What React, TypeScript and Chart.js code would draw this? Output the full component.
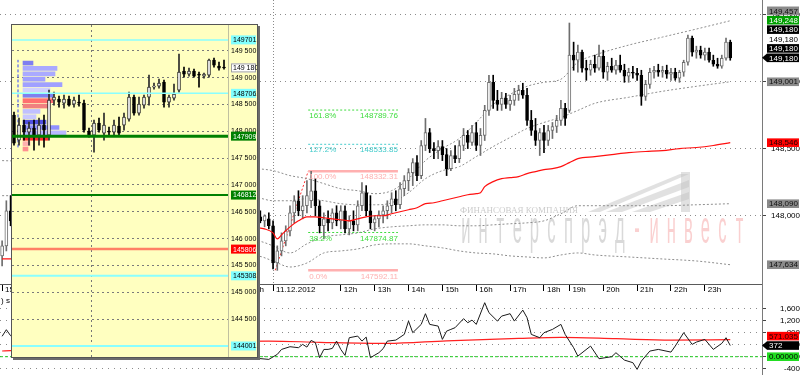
import React, { useEffect, useRef } from 'react';
import { Chart, registerables } from 'chart.js';

Chart.register(...registerables);

const FONT = "'Liberation Sans', Arial, sans-serif";

// ---------------- MAIN PRICE PANEL ----------------
// slot = bar position on the intraday time axis (8 bars per hour)
const M_SLOT = [
  0, 1, 2,
  60, 61, 62, 63, 64, 65, 66, 67, 68, 69,
  70, 71, 72, 73, 74, 75, 76, 77, 78, 79,
  80, 81, 82, 83, 84, 85, 86, 87, 88, 89,
  90, 91, 92, 93, 94, 95, 96, 97, 98, 99,
  100, 101, 102, 103, 104, 105, 106, 107, 108, 109,
  110, 111, 112, 113, 114, 115, 116, 117, 118, 119,
  120, 121, 122, 123, 124, 125, 126, 127, 128, 129,
  130, 131, 132, 133, 134, 135, 136, 137, 138, 139,
  140, 141, 142, 143, 144, 145, 146, 147, 148, 149,
  150, 151, 152, 153, 154, 155, 156, 157, 158, 159,
  160, 161, 162, 163, 164, 165, 166, 167, 168, 169,
  170, 171, 172,
];
const M_OPEN = [
  147700, 147775, 148037,
  147977, 147992, 147962, 147977, 147925, 147647, 147737, 147812, 147887, 148022,
  148112, 148037, 148075, 148112, 148187, 148075, 147925, 147977, 147947, 148022,
  147962, 148037, 147902, 147962, 147932, 148075, 148172, 148037, 147947, 147977,
  148007, 148037, 148075, 148127, 148082, 148202, 148262, 148322, 148397, 148300,
  148525, 148622, 148502, 148487, 148517, 148457, 148352, 148450, 148427, 148525,
  148600, 148547, 148622, 148525, 148600, 148787, 148997, 148862, 148832, 148877,
  148832, 148862, 148907, 148937, 148900, 148712, 148637, 148562, 148622, 148562,
  148637, 148667, 148712, 148802, 148787, 149200, 149162, 149222, 149102, 149087,
  149132, 149102, 149192, 149072, 149117, 149087, 149125, 149087, 149042, 149072,
  149065, 149050, 148892, 148982, 149072, 149087, 149072, 149087, 149057, 149072,
  149027, 149072, 149147, 149327, 149222, 149237, 149200, 149222, 149162, 149132,
  149117, 149177, 149297,
];
const M_HIGH = [
  147812, 148112, 148150,
  148022, 148037, 148007, 148022, 147962, 147775, 147872, 147925, 148075, 148150,
  148187, 148150, 148262, 148332, 148277, 148112, 148022, 148037, 148052, 148075,
  148075, 148075, 148000, 148037, 148112, 148247, 148225, 148150, 148000, 148037,
  148075, 148112, 148172, 148187, 148247, 148300, 148352, 148427, 148450, 148562,
  148727, 148652, 148547, 148562, 148562, 148502, 148487, 148525, 148562, 148652,
  148637, 148675, 148697, 148652, 148825, 149050, 149050, 148937, 148922, 148915,
  148900, 148952, 148975, 148990, 148952, 148787, 148727, 148652, 148675, 148675,
  148697, 148750, 148862, 148840, 149440, 149297, 149275, 149237, 149162, 149162,
  149200, 149275, 149237, 149147, 149177, 149162, 149200, 149132, 149102, 149117,
  149102, 149087, 149012, 149102, 149117, 149132, 149117, 149125, 149102, 149102,
  149087, 149162, 149350, 149342, 149267, 149267, 149252, 149252, 149200, 149177,
  149200, 149327, 149312,
];
const M_LOW = [
  147625, 147737, 147925,
  147932, 147947, 147917, 147902, 147602, 147592, 147700, 147775, 147850, 147947,
  148000, 147977, 148022, 148060, 148000, 147872, 147827, 147887, 147902, 147925,
  147902, 147872, 147857, 147887, 147887, 148037, 148000, 147902, 147887, 147917,
  147947, 147977, 148022, 148037, 148052, 148150, 148187, 148225, 148262, 148277,
  148487, 148472, 148427, 148427, 148412, 148300, 148337, 148397, 148397, 148487,
  148502, 148525, 148487, 148450, 148562, 148750, 148802, 148787, 148787, 148802,
  148787, 148825, 148862, 148877, 148675, 148600, 148525, 148450, 148472, 148525,
  148577, 148622, 148675, 148675, 148772, 149087, 149072, 149072, 149012, 149050,
  149072, 149087, 149027, 149012, 149072, 149057, 149072, 148997, 148997, 149027,
  149012, 148825, 148862, 148952, 149027, 149042, 149035, 149027, 149012, 149012,
  148997, 149042, 149125, 149192, 149177, 149177, 149162, 149147, 149117, 149102,
  149102, 149162, 149162,
];
const M_CLOSE = [
  147775, 148037, 147962,
  147992, 147962, 148000, 147925, 147647, 147737, 147812, 147887, 148022, 148112,
  148037, 148075, 148150, 148187, 148075, 147925, 147977, 147947, 148022, 147962,
  148037, 147902, 147962, 147932, 148075, 148172, 148037, 147947, 147977, 148007,
  148037, 148075, 148127, 148082, 148202, 148262, 148322, 148397, 148300, 148525,
  148622, 148502, 148487, 148517, 148457, 148352, 148450, 148427, 148525, 148600,
  148547, 148622, 148525, 148600, 148787, 148997, 148862, 148832, 148877, 148832,
  148862, 148907, 148937, 148900, 148712, 148637, 148562, 148622, 148562, 148637,
  148667, 148712, 148802, 148727, 149200, 149162, 149222, 149102, 149087, 149132,
  149102, 149192, 149072, 149117, 149087, 149125, 149087, 149042, 149072, 149065,
  149050, 148892, 148982, 149072, 149087, 149072, 149087, 149057, 149072, 149027,
  149072, 149147, 149327, 149222, 149237, 149200, 149222, 149162, 149132, 149117,
  149177, 149297, 149180,
];

// red moving average
const MA_SLOT = [0, 2, 60, 62, 64, 65, 66, 68, 70, 72, 74, 76, 78, 80, 82, 84, 86, 88, 90, 92, 94, 96, 98, 100, 102, 104, 106, 108, 110, 112, 113, 114, 116, 118, 120, 122, 124, 126, 128, 130, 132, 134, 136, 140, 144, 148, 152, 156, 160, 164, 168, 172];
const MA_VAL = [147677, 147677, 147910, 147902, 147872, 147827, 147857, 147917, 147962, 147992, 147992, 147985, 147977, 147970, 147962, 147977, 147992, 148000, 148000, 148015, 148030, 148045, 148060, 148090, 148097, 148112, 148127, 148142, 148157, 148165, 148172, 148217, 148255, 148277, 148285, 148292, 148315, 148330, 148345, 148352, 148367, 148397, 148427, 148442, 148457, 148472, 148480, 148487, 148502, 148510, 148525, 148546];

// dotted envelope bands
const BAND_SLOT = [0, 60, 64, 68, 72, 76, 80, 84, 88, 92, 96, 100, 104, 108, 112, 116, 120, 124, 128, 132, 136, 140, 148, 156, 164, 172];
const BAND_UP2 = [148412, 148352, 148337, 148300, 148277, 148240, 148202, 148187, 148165, 148187, 148277, 148412, 148502, 148577, 148697, 148832, 148907, 148967, 148997, 149020, 149147, 149200, 149275, 149335, 149395, 149457];
const BAND_UP1 = [148150, 148135, 148112, 148112, 148127, 148112, 148090, 148082, 148082, 148097, 148172, 148277, 148337, 148367, 148442, 148517, 148585, 148652, 148697, 148735, 148787, 148840, 148885, 148930, 148967, 149001];
const BAND_LO1 = [147475, 147812, 147775, 147722, 147790, 147842, 147857, 147872, 147902, 147917, 147925, 147932, 147932, 147925, 147925, 147932, 147940, 147947, 147962, 148015, 148075, 148075, 148075, 148075, 148082, 148090];
const BAND_LO2 = [147300, 147700, 147662, 147617, 147647, 147722, 147737, 147752, 147782, 147790, 147790, 147775, 147760, 147737, 147722, 147715, 147700, 147692, 147685, 147707, 147722, 147707, 147692, 147677, 147662, 147634];

// time axis
const TIME_TICK_SLOT = [0, 58, 64, 80, 88, 96, 104, 112, 120, 128, 134, 142, 150, 158, 166];
const TIME_TICK_LABEL = ['15h', '23h', '11.12.2012', '12h', '13h', '14h', '15h', '16h', '17h', '18h', '19h', '20h', '21h', '22h', '23h'];
const DAY_SEPARATOR_SLOT = 64;
const PRICE_TICKS = [148000, 148500, 149000, 149500];

// Fibonacci
const FIB_LABELS = ['161.8%', '127.2%', '100.0%', '38.2%', '0.0%'];
const FIB_VALUES = [148789.76, 148533.85, 148332.31, 147874.87, 147592.11];
const FIB_COLORS = ['#3fdc3f', '#45cccc', '#ffb0b0', '#3fdc3f', '#ffb0b0'];
const FIB_SOLID = [false, false, true, false, true];
const FIB_FROM = 72.3;
const FIB_TO = 93.5;
const FIB_TREND_SLOT = [64.5, 72.3];
const FIB_TREND_VAL = [147592.11, 148332.31];

// right-axis quote tags
const EXTRA_TAG_VALUES = [149248, 149180, 149180, 149180];
const EXTRA_TAG_BG = ['#00a000', '#000000', '#ffffff', '#000000'];
const EXTRA_TAG_FG = ['#ffffff', '#ffffff', '#000000', '#ffffff'];

// ---------------- INDICATOR PANEL ----------------
const I_SLOT = [0, 1, 2, 63, 65, 66, 68, 70, 71, 72, 73, 74, 75, 76, 77, 78, 79, 80, 81, 82, 84, 85, 86, 87, 89, 90, 91, 93, 95, 96, 97, 99, 100, 101, 103, 104, 105, 106, 107, 109, 110, 111, 112, 114, 115, 117, 118, 120, 121, 123, 124, 125, 127, 128, 130, 132, 133, 135, 136, 139, 141, 144, 145, 147, 149, 150, 151, 153, 155, 158, 159, 161, 163, 164, 166, 168, 170, 171, 172];
const I_VAL = [680, 900, 700, -90, 77, 243, 333, 300, 410, 320, 543, 467, -33, 243, 243, 277, 520, 243, 43, 633, 687, 520, 653, -33, 133, 267, 520, 553, 743, 1187, 800, 1077, 1433, 1077, 1020, 577, 853, 910, 967, 1267, 1133, 1220, 1077, 1800, 1467, 1187, 1353, 1433, 1187, 1553, 1300, 743, 633, 800, 910, 1077, 743, 300, 20, 353, -67, 0, 133, -113, -200, -423, -147, 187, 243, 153, 353, 800, 410, 487, 577, 243, 443, 633, 372];
const S_SLOT = [0, 2, 63, 75, 91, 105, 122, 132, 145, 158, 172];
const S_VAL = [190, 200, 520, 480, 443, 530, 610, 643, 600, 553, 571.035];
const IND_TICKS = [-400, 0, 400, 800, 1200, 1600];
const ZERO_LEVEL = 0;

// ---------------- INSET (higher timeframe) ----------------
const IN_SLOT = [0, 1, 2, 3, 4, 5, 6, 7, 8, 9, 10, 11, 12, 13, 14, 15, 16, 17, 18, 19, 20, 21, 22, 23, 24, 25, 26, 27, 28, 29, 30, 31, 32, 33, 34, 35, 36, 37, 38, 39, 40, 41, 42];
const IN_OPEN = [148300, 147834, 148114, 147983, 148058, 147927, 148114, 147927, 148580, 148599, 148524, 148599, 148505, 148543, 148524, 148002, 147927, 148151, 147964, 148002, 147983, 148095, 148114, 148225, 148636, 148337, 148487, 148636, 148822, 148841, 148916, 148543, 148617, 148767, 149121, 149065, 149121, 149065, 149028, 149046, 149326, 149214, 149196];
const IN_HIGH = [148356, 148244, 148207, 148170, 148207, 148244, 148300, 148767, 148729, 148655, 148673, 148655, 148636, 148673, 148580, 148058, 148207, 148244, 148337, 148076, 148207, 148263, 148337, 148729, 148673, 148636, 148673, 149046, 148897, 148972, 148953, 148673, 148879, 149438, 149196, 149177, 149158, 149102, 149084, 149345, 149364, 149289, 149326];
const IN_LOW = [147740, 147740, 147834, 147740, 147647, 147740, 147703, 147834, 148487, 148449, 148431, 148468, 148449, 148468, 147983, 147890, 147610, 147983, 147834, 147927, 147927, 147927, 148020, 148188, 148300, 148300, 148431, 148487, 148785, 148804, 148449, 148449, 148580, 148729, 149009, 149028, 149009, 148822, 148990, 149009, 149196, 149140, 149158];
const IN_CLOSE = [147778, 148114, 147983, 148058, 147927, 148114, 148020, 148580, 148636, 148543, 148599, 148487, 148580, 148524, 148020, 147927, 148151, 148020, 148114, 147983, 148114, 147964, 148263, 148636, 148337, 148505, 148636, 148822, 148841, 148897, 148543, 148636, 148692, 149102, 149065, 149121, 149028, 149046, 149065, 149326, 149233, 149177, 149180];
const IN_DAY_SLOT = 15.5;
const IN_TICKS = [144500, 145000, 145500, 146000, 146500, 147000, 147500, 148000, 148500, 149000, 149500];

// volume profile
const PROFILE_PRICE = [149270, 149170, 149070, 148970, 148870, 148770, 148670, 148570, 148470, 148370, 148270, 148170, 148070, 147970, 147870, 147770, 147670];
const PROFILE_LEN = [10, 34, 32, 22, 39, 27, 30, 30, 27, 17, 13, 23, 36, 43, 25, 7, 5];
const PROFILE_COLOR = ['#7f7ff0', '#aaaaff', '#aaaaff', '#a0a0ff', '#a0a0ff', '#d0d0ff', '#8080f0', '#ff7070', '#f08080', '#c0c0ff', '#c8c8ff', '#5050e0', '#9090ff', '#b8b8ff', '#ff3030', '#ffb0b0', '#ff9090'];
const POC_SLOT = 0.8;
const POC_RANGE = [147700, 149330];

// horizontal levels in the inset
const IN_LEVEL_VAL = [149701.6, 148706.5, 147909.3, 146812.4, 145806.2, 145308.7, 144001.9];
const IN_LEVEL_COLOR = ['#8affff', '#8affff', '#008000', '#008000', '#ff8066', '#8affff', '#8affff'];
const IN_LEVEL_WIDTH = [1.5, 1.5, 3, 2, 2.5, 2, 2];
const IN_TAG_BG = ['#80ffff', '#80ffff', '#008000', '#008000', '#ff0000', '#80ffff', '#80ffff'];
const IN_TAG_FG = ['#000000', '#000000', '#ffffff', '#ffffff', '#ffffff', '#000000', '#000000'];
const IN_LAST_TAG = 149180;

// ---------------- helpers ----------------
const fmtComma = (v: number) => Number(v).toLocaleString('en-US');
const fmtSpace = (v: number) => String(Math.round(v)).replace(/\B(?=(\d{3})+(?!\d))/g, ' ');

function candleSets(slots: number[], o: number[], h: number[], l: number[], c: number[], upFill: string, upLine: string, down: string, order: number) {
  const up = c.map((v, i) => v >= o[i]);
  return [
    {
      type: 'bar',
      data: slots.map((s, i) => ({ x: s, y: [o[i], c[i]] })),
      backgroundColor: up.map((u) => (u ? upFill : down)),
      borderColor: up.map((u) => (u ? upLine : down)),
      borderWidth: 1,
      borderSkipped: false,
      barThickness: 3,
      grouped: false,
      order,
    },
    {
      type: 'bar',
      data: slots.map((s, i) => ({ x: s, y: [l[i], h[i]] })),
      backgroundColor: up.map((u) => (u ? upLine : down)),
      barThickness: 1,
      grouped: false,
      order: order + 1,
    },
  ];
}

function line(slots: number[], vals: number[], color: string, width: number, dash: number[], order: number, smooth = false) {
  return {
    type: 'line',
    data: slots.map((s, i) => ({ x: s, y: vals[i] })),
    borderColor: color,
    borderWidth: width,
    borderDash: dash,
    pointRadius: 0,
    fill: false,
    cubicInterpolationMode: smooth ? 'monotone' : 'default',
    order,
  };
}

type Tag = { v: number; text: string; bg: string; fg: string; arrow?: boolean; stroke?: string };

function drawTags(chart: any, tags: Tag[], step: number, boxH: number, gap: number, fontSize: number) {
  const { ctx, chartArea } = chart;
  const ys = chart.scales.y;
  const items = tags.map((t, i) => ({ ...t, i, py: ys.getPixelForValue(t.v) }));
  items.sort((a, b) => b.py - a.py || b.i - a.i);
  let prev = Infinity;
  const left = chartArea.right + gap;
  const w = chart.width - left - 1;
  ctx.save();
  ctx.font = `${fontSize}px ${FONT}`;
  ctx.textBaseline = 'middle';
  ctx.textAlign = 'left';
  for (const it of items) {
    const yy = Math.min(it.py, prev - step);
    prev = yy;
    ctx.fillStyle = it.bg;
    ctx.fillRect(left, yy - boxH / 2, w, boxH);
    if (it.stroke) {
      ctx.strokeStyle = it.stroke;
      ctx.lineWidth = 1;
      ctx.strokeRect(left + 0.5, yy - boxH / 2 + 0.5, w - 1, boxH - 1);
    }
    if (it.arrow) {
      ctx.beginPath();
      ctx.moveTo(chartArea.right, yy);
      ctx.lineTo(left, yy - boxH / 2);
      ctx.lineTo(left, yy + boxH / 2);
      ctx.closePath();
      ctx.fill();
    }
    ctx.fillStyle = it.fg;
    ctx.fillText(it.text, left + 2, yy + 0.5);
  }
  ctx.restore();
}

function buildMain(): any {
  const last = (a: number[]) => a[a.length - 1];
  const tags: Tag[] = [
    { v: last(BAND_UP2), text: fmtComma(last(BAND_UP2)), bg: '#8a8a8a', fg: '#111' },
    ...EXTRA_TAG_VALUES.map((v, i) => ({ v, text: fmtComma(v), bg: EXTRA_TAG_BG[i], fg: EXTRA_TAG_FG[i] })),
    { v: last(M_CLOSE), text: fmtComma(last(M_CLOSE)), bg: '#000', fg: '#fff', arrow: true },
    { v: last(BAND_UP1), text: fmtComma(last(BAND_UP1)), bg: '#8a8a8a', fg: '#111' },
    { v: last(MA_VAL), text: fmtComma(last(MA_VAL)), bg: '#ff0000', fg: '#200' },
    { v: last(BAND_LO1), text: fmtComma(last(BAND_LO1)), bg: '#8a8a8a', fg: '#111' },
    { v: last(BAND_LO2), text: fmtComma(last(BAND_LO2)), bg: '#8a8a8a', fg: '#111' },
  ];
  const bandColor = '#8e8e8e';
  const datasets: any[] = [
    line(MA_SLOT, MA_VAL, '#ff1010', 1.2, [], 0, true),
    ...candleSets(M_SLOT, M_OPEN, M_HIGH, M_LOW, M_CLOSE, '#ffffff', '#6e6e6e', '#000000', 1),
    line(BAND_SLOT, BAND_UP2, bandColor, 1, [2, 2], 3, true),
    line(BAND_SLOT, BAND_UP1, bandColor, 1, [2, 2], 3, true),
    line(BAND_SLOT, BAND_LO1, bandColor, 1, [2, 2], 3, true),
    line(BAND_SLOT, BAND_LO2, bandColor, 1, [2, 2], 3, true),
    ...FIB_VALUES.map((v, k) => line([FIB_FROM, FIB_TO], [v, v], FIB_COLORS[k], FIB_SOLID[k] ? 2.5 : 1, FIB_SOLID[k] ? [] : [2, 2], 4)),
    line(FIB_TREND_SLOT, FIB_TREND_VAL, '#ff3030', 1, [2, 2], 4),
  ];
  return {
    type: 'bar',
    data: { datasets },
    options: {
      animation: false,
      responsive: false,
      maintainAspectRatio: false,
      layout: { padding: 0, autoPadding: false },
      plugins: { legend: { display: false }, tooltip: { enabled: false } },
      scales: {
        x: {
          type: 'linear',
          min: -0.5,
          max: 179.5,
          offset: false,
          afterBuildTicks: (s: any) => { s.ticks = TIME_TICK_SLOT.map((v) => ({ value: v })); },
          afterFit: (s: any) => { s.height = 12; s.paddingLeft = 0; s.paddingRight = 0; },
          ticks: {
            autoSkip: false, maxRotation: 0, minRotation: 0, align: 'start', labelOffset: 3, padding: -6,
            font: { family: FONT, size: 8 }, color: '#000',
            callback: (v: any) => { const i = TIME_TICK_SLOT.indexOf(Number(v)); return i >= 0 ? TIME_TICK_LABEL[i] : ''; },
          },
          grid: {
            offset: false,
            color: (c: any) => (c.tick && c.tick.value === DAY_SEPARATOR_SLOT ? '#8a8a8a' : 'rgba(0,0,0,0)'),
            lineWidth: 1, drawTicks: true, tickLength: 7, tickColor: '#000', tickWidth: 1,
          },
          border: { display: true, color: '#5a5a5a', width: 1, dash: [1, 2] },
        },
        y: {
          type: 'linear',
          position: 'right',
          min: 147490,
          max: 149612,
          offset: false,
          afterBuildTicks: (s: any) => { s.ticks = PRICE_TICKS.map((v) => ({ value: v })); },
          afterFit: (s: any) => { s.width = 38; s.paddingTop = 0; s.paddingBottom = 0; },
          ticks: { font: { family: FONT, size: 8 }, color: '#000', padding: 2, crossAlign: 'far', callback: (v: any) => fmtComma(v) },
          grid: { offset: false, color: '#8c8c8c', lineWidth: 1, drawTicks: true, tickLength: 4, tickColor: '#444' },
          border: { display: true, color: '#7a7a7a', width: 1, dash: [1, 4] },
        },
      },
    },
    plugins: [
      {
        id: 'watermark',
        beforeDatasetsDraw(chart: any) {
          const { ctx, chartArea: a } = chart;
          const X = (x: number) => a.left + (x / 762) * a.width;
          const Y = (y: number) => a.top + (y / 284) * a.height;
          ctx.save();
          ctx.fillStyle = 'rgba(195,195,195,0.5)';
          const polys = [
            [[588, 212], [680, 174], [689, 174], [600, 212]],
            [[606, 212], [689, 180], [689, 187], [622, 212]],
            [[632, 212], [689, 192], [689, 199], [650, 212]],
            [[681, 172], [690, 172], [690, 212], [681, 212]],
          ];
          polys.forEach((p) => {
            ctx.beginPath();
            p.forEach(([x, y], i) => (i ? ctx.lineTo(X(x), Y(y)) : ctx.moveTo(X(x), Y(y))));
            ctx.closePath();
            ctx.fill();
          });
          ctx.font = "9px 'Liberation Serif', serif";
          ctx.fillStyle = 'rgba(170,170,170,0.6)';
          ctx.textBaseline = 'alphabetic';
          ctx.fillText('ФИНАНСОВАЯ КОМПАНИЯ', X(460), Y(213));
          const word = 'интерспрэд-инвест';
          ctx.font = `46px ${FONT}`;
          ctx.textAlign = 'center';
          for (let i = 0; i < word.length; i++) {
            ctx.save();
            ctx.translate(X(466 + i * 17.1), Y(243));
            ctx.scale(0.36, 1);
            ctx.fillStyle = i < 10 ? 'rgba(185,185,185,0.55)' : 'rgba(245,150,150,0.45)';
            ctx.fillText(word[i], 0, 0);
            ctx.restore();
          }
          ctx.restore();
        },
      },
      {
        id: 'fibLabels',
        afterDatasetsDraw(chart: any) {
          const { ctx } = chart;
          const xs = chart.scales.x, ys = chart.scales.y;
          const x1 = xs.getPixelForValue(FIB_FROM), x2 = xs.getPixelForValue(FIB_TO);
          ctx.save();
          ctx.font = `8px ${FONT}`;
          ctx.textBaseline = 'top';
          FIB_VALUES.forEach((v, k) => {
            const yy = ys.getPixelForValue(v);
            ctx.fillStyle = FIB_COLORS[k];
            ctx.textAlign = 'left';
            ctx.fillText(FIB_LABELS[k], x1 + 1, yy + 2);
            ctx.textAlign = 'right';
            ctx.fillText(v.toFixed(2), x2, yy + 2);
          });
          ctx.restore();
        },
      },
      {
        id: 'tags',
        afterDraw(chart: any) {
          const { ctx, chartArea } = chart;
          ctx.save();
          ctx.strokeStyle = '#7a7a7a';
          ctx.beginPath();
          ctx.moveTo(chartArea.right + 0.5, chartArea.bottom);
          ctx.lineTo(chartArea.right + 0.5, chart.height);
          ctx.stroke();
          ctx.restore();
          drawTags(chart, tags, 9.4, 8.6, 5, 8);
        },
      },
    ],
  };
}

function buildIndicator(): any {
  const tags: Tag[] = [
    { v: S_VAL[S_VAL.length - 1], text: S_VAL[S_VAL.length - 1].toFixed(3), bg: '#ff0000', fg: '#200' },
    { v: I_VAL[I_VAL.length - 1], text: String(I_VAL[I_VAL.length - 1]), bg: '#000', fg: '#fff', arrow: true },
    { v: ZERO_LEVEL, text: ZERO_LEVEL.toFixed(5), bg: '#22dd22', fg: '#000' },
  ];
  return {
    type: 'line',
    data: {
      datasets: [
        line(I_SLOT, I_VAL, '#1a1a1a', 1, [], 0),
        line(S_SLOT, S_VAL, '#ff2020', 1.2, [], 1, true),
        line([-0.5, 179.5], [ZERO_LEVEL, ZERO_LEVEL], '#22cc22', 1, [3, 2], 2),
      ],
    },
    options: {
      animation: false,
      responsive: false,
      maintainAspectRatio: false,
      layout: { padding: 0, autoPadding: false },
      plugins: { legend: { display: false }, tooltip: { enabled: false } },
      scales: {
        x: { type: 'linear', min: -0.5, max: 179.5, display: false, offset: false },
        y: {
          type: 'linear',
          position: 'right',
          min: -610,
          max: 2023,
          offset: false,
          afterBuildTicks: (s: any) => { s.ticks = IND_TICKS.map((v) => ({ value: v })); },
          afterFit: (s: any) => { s.width = 38; s.paddingTop = 0; s.paddingBottom = 0; },
          ticks: { font: { family: FONT, size: 8 }, color: '#000', padding: 2, crossAlign: 'far', callback: (v: any) => fmtComma(v) },
          grid: { color: '#8c8c8c', lineWidth: 1, drawTicks: true, tickLength: 4, tickColor: '#444' },
          border: { display: true, color: '#7a7a7a', width: 1, dash: [1, 5] },
        },
      },
    },
    plugins: [
      {
        id: 'indTags',
        afterDraw(chart: any) {
          const { ctx, chartArea } = chart;
          ctx.save();
          ctx.font = `8px ${FONT}`;
          ctx.fillStyle = '#000';
          ctx.textBaseline = 'top';
          ctx.fillText(') s', chartArea.left + 1, chartArea.top + 1);
          ctx.restore();
          drawTags(chart, tags, 9.4, 8.6, 5, 8);
        },
      },
    ],
  };
}

function buildInset(): any {
  const tags: Tag[] = [
    ...IN_LEVEL_VAL.map((v, i) => ({ v, text: v.toFixed(1), bg: IN_TAG_BG[i], fg: IN_TAG_FG[i] })),
    { v: IN_LAST_TAG, text: fmtSpace(IN_LAST_TAG), bg: '#ffffff', fg: '#000', stroke: '#a0a0a0' },
  ];
  return {
    type: 'bar',
    data: {
      datasets: [
        ...IN_LEVEL_VAL.map((v, i) => line([-0.4, 42.8], [v, v], IN_LEVEL_COLOR[i], IN_LEVEL_WIDTH[i], [], 0)),
        ...candleSets(IN_SLOT, IN_OPEN, IN_HIGH, IN_LOW, IN_CLOSE, '#ffffff', '#2a2a2a', '#000000', 1),
        line([POC_SLOT, POC_SLOT], POC_RANGE, '#3344ff', 1, [3, 2], 3),
        {
          type: 'bar',
          indexAxis: 'y',
          xAxisID: 'xv',
          yAxisID: 'y',
          data: PROFILE_PRICE.map((p, i) => ({ x: PROFILE_LEN[i], y: p })),
          backgroundColor: PROFILE_COLOR,
          barThickness: 4,
          grouped: false,
          order: 4,
        },
      ],
    },
    options: {
      animation: false,
      responsive: false,
      maintainAspectRatio: false,
      layout: { padding: 0, autoPadding: false },
      plugins: { legend: { display: false }, tooltip: { enabled: false } },
      scales: {
        x: {
          type: 'linear',
          min: -0.4,
          max: 42.8,
          offset: false,
          afterBuildTicks: (s: any) => { s.ticks = [{ value: IN_DAY_SLOT }]; },
          afterFit: (s: any) => { s.height = 0; s.paddingLeft = 0; s.paddingRight = 0; },
          ticks: { display: false },
          grid: { offset: false, color: '#777', drawTicks: false, lineWidth: 1 },
          border: { display: false, dash: [2, 3] },
        },
        xv: { type: 'linear', min: -11, max: 205, display: false, offset: false, grid: { offset: false } },
        y: {
          type: 'linear',
          position: 'right',
          min: 143797,
          max: 149979,
          offset: false,
          afterBuildTicks: (s: any) => { s.ticks = IN_TICKS.map((v) => ({ value: v })); },
          afterFit: (s: any) => { s.width = 29; s.paddingTop = 0; s.paddingBottom = 0; },
          ticks: { font: { family: FONT, size: 7 }, color: '#000', padding: 3, callback: (v: any) => fmtSpace(v) },
          grid: { offset: false, color: '#7a7a7a', lineWidth: 1, drawTicks: false },
          border: { display: true, color: '#c0c0a0', width: 1, dash: [2, 3] },
        },
      },
    },
    plugins: [
      {
        id: 'insetTags',
        afterDraw(chart: any) {
          drawTags(chart, tags, 0, 9, 3, 7);
        },
      },
    ],
  };
}

export default function App() {
  const mainRef = useRef<HTMLCanvasElement>(null);
  const indRef = useRef<HTMLCanvasElement>(null);
  const insetRef = useRef<HTMLCanvasElement>(null);

  useEffect(() => {
    const charts: Chart[] = [];
    if (mainRef.current) charts.push(new Chart(mainRef.current, buildMain()));
    if (indRef.current) charts.push(new Chart(indRef.current, buildIndicator()));
    if (insetRef.current) charts.push(new Chart(insetRef.current, buildInset()));
    return () => charts.forEach((c) => c.destroy());
  }, []);

  return (
    <div style={{ position: 'fixed', left: 0, top: 0, width: 800, height: 375, background: '#fff', overflow: 'hidden' }}>
      <canvas ref={mainRef} width={800} height={296} style={{ position: 'absolute', left: 0, top: 0, width: 800, height: 296 }} />
      <canvas ref={indRef} width={800} height={79} style={{ position: 'absolute', left: 0, top: 296, width: 800, height: 79 }} />
      <div
        style={{
          position: 'absolute', left: 11, top: 24, width: 245, height: 332,
          border: '1px solid #555', boxShadow: '2px 2px 0 #6b6b6b', background: '#FFFFC0',
        }}
      >
        <canvas ref={insetRef} width={245} height={332} style={{ display: 'block', width: 245, height: 332 }} />
      </div>
    </div>
  );
}
